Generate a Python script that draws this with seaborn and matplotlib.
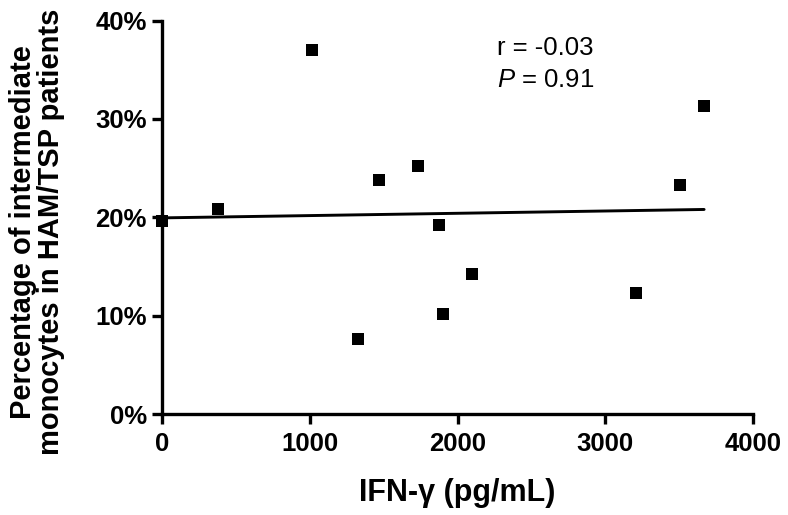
import matplotlib
matplotlib.use("Agg")
import matplotlib.pyplot as plt
from matplotlib.ticker import FuncFormatter
import seaborn as sns
import pandas as pd

ifn_gamma = [0, 377, 1013, 1328, 1468, 1734, 1876, 1899, 2095, 3205, 3505, 3669]
pct_intermediate = [19.6, 20.8, 37.0, 7.6, 23.8, 25.2, 19.2, 10.2, 14.2, 12.3, 23.3, 31.3]
x_ticks = [0, 1000, 2000, 3000, 4000]
y_ticks = [0, 10, 20, 30, 40]
stats_text = ["r = -0.03", "$\\it{P}$ = 0.91"]

df = pd.DataFrame({"x": ifn_gamma, "y": pct_intermediate})

sns.set_style("ticks")
plt.rcParams["font.family"] = ["Liberation Sans", "DejaVu Sans"]
plt.rcParams["mathtext.fontset"] = "custom"
plt.rcParams["mathtext.it"] = "Liberation Sans:italic"
plt.rcParams["mathtext.rm"] = "Liberation Sans"
for k in ["text.color", "axes.labelcolor", "xtick.color", "ytick.color", "axes.edgecolor"]:
    plt.rcParams[k] = "black"

fig = plt.figure(figsize=(7.88, 5.15), dpi=100)
ax = fig.add_axes([0.2056, 0.196, 0.7500, 0.764])

sns.regplot(data=df, x="x", y="y", ax=ax, ci=None, marker="s", color="black",
            scatter_kws={"s": 85, "linewidths": 0, "alpha": 1, "clip_on": False, "zorder": 3},
            line_kws={"linewidth": 2.1, "color": "black"})

ax.set_xlim(0, 4000)
ax.set_ylim(0, 40)
ax.set_xticks(x_ticks)
ax.set_yticks(y_ticks)
ax.yaxis.set_major_formatter(FuncFormatter(lambda v, p: f"{int(v)}%"))
for lab in ax.get_xticklabels() + ax.get_yticklabels():
    lab.set_fontweight("bold")
ax.tick_params(axis="both", labelsize=18.5, width=2.4, length=7, direction="out")
ax.tick_params(axis="x", pad=6)
ax.tick_params(axis="y", pad=4)

for s in ["top", "right"]:
    ax.spines[s].set_visible(False)
for s in ["left", "bottom"]:
    ax.spines[s].set_linewidth(2.4)

ax.set_xlabel("IFN-γ (pg/mL)", fontsize=22, fontweight="bold")
ax.set_ylabel("Percentage of intermediate\nmonocytes in HAM/TSP patients",
              fontsize=21, fontweight="bold", linespacing=1.0)
ax.yaxis.set_label_coords(-0.164, 0.463)
ax.xaxis.set_label_coords(0.5, -0.163)

ax.text(0.567, 0.913, stats_text[0], transform=ax.transAxes, fontsize=18.5, ha="left", va="baseline")
ax.text(0.567, 0.831, stats_text[1], transform=ax.transAxes, fontsize=18.5, ha="left", va="baseline")

fig.savefig("out.png", dpi=100)
